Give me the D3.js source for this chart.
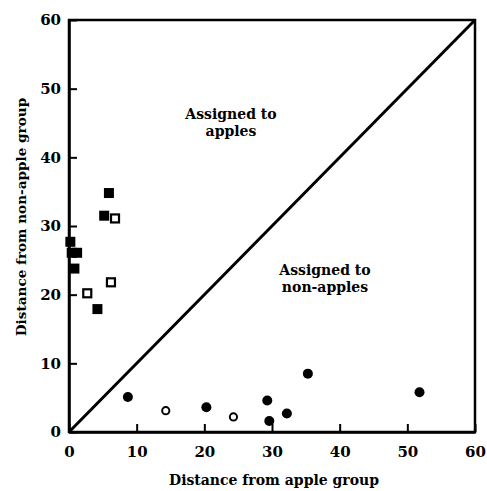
<!DOCTYPE html>
<html>
<head>
<meta charset="utf-8">
<script src="https://cdn.jsdelivr.net/npm/d3@7"></script>
<style>
  html, body { margin: 0; padding: 0; background: #fff; }
  svg { display: block; }
  text { font-family: "DejaVu Serif", serif; font-weight: bold; fill: #000; }
</style>
</head>
<body>
<svg id="chart" width="487" height="491"></svg>
<script>
// Data
const appleFilledX = [5.9, 5.2, 0.2, 0.4, 1.2, 0.8, 4.2];
const appleFilledY = [34.8, 31.5, 27.7, 26.1, 26.1, 23.8, 17.9];
const appleOpenX = [6.8, 6.2, 2.7];
const appleOpenY = [31.1, 21.8, 20.2];
const nonAppleFilledX = [8.7, 20.3, 29.3, 29.6, 32.2, 35.3, 51.8];
const nonAppleFilledY = [5.1, 3.6, 4.6, 1.6, 2.7, 8.5, 5.8];
const nonAppleOpenX = [14.3, 24.3];
const nonAppleOpenY = [3.1, 2.2];
const xTicks = [0, 10, 20, 30, 40, 50, 60];
const yTicks = [0, 10, 20, 30, 40, 50, 60];
const xTitle = "Distance from apple group";
const yTitle = "Distance from non-apple group";
const upperLabel = ["Assigned to", "apples"];
const lowerLabel = ["Assigned to", "non-apples"];

const svg = d3.select("#chart");
const mLeft = 69, mRight = 475, mTop = 20, mBottom = 432;
const x = d3.scaleLinear().domain([0, 60]).range([mLeft, mRight]);
const y = d3.scaleLinear().domain([0, 60]).range([mBottom, mTop]);

// frame
svg.append("rect")
  .attr("x", mLeft).attr("y", mTop)
  .attr("width", mRight - mLeft).attr("height", mBottom - mTop)
  .attr("fill", "none").attr("stroke", "#000").attr("stroke-width", 2.5);

const xAxis = svg.append("g")
  .attr("transform", `translate(0,${mBottom})`)
  .call(d3.axisBottom(x).tickValues(xTicks).tickFormat(d3.format("d"))
        .tickSizeInner(-8).tickSizeOuter(0).tickPadding(14));
const yAxis = svg.append("g")
  .attr("transform", `translate(${mLeft},0)`)
  .call(d3.axisLeft(y).tickValues(yTicks).tickFormat(d3.format("d"))
        .tickSizeInner(-8).tickSizeOuter(0).tickPadding(8));

[xAxis, yAxis].forEach(g => {
  g.select(".domain").attr("stroke", "#000").attr("stroke-width", 2.5);
  g.selectAll(".tick line").attr("stroke", "#000").attr("stroke-width", 2);
  g.selectAll(".tick text")
    .attr("font-family", "DejaVu Serif").attr("font-weight", "bold")
    .attr("font-size", 15).attr("fill", "#000");
});

// diagonal
svg.append("line")
  .attr("x1", x(0)).attr("y1", y(0)).attr("x2", x(60)).attr("y2", y(60))
  .attr("stroke", "#000").attr("stroke-width", 3);

// markers
const sq = 10;
svg.append("g").selectAll("rect")
  .data(appleFilledX.map((v, i) => [v, appleFilledY[i]]))
  .join("rect")
  .attr("x", d => x(d[0]) - sq / 2).attr("y", d => y(d[1]) - sq / 2)
  .attr("width", sq).attr("height", sq).attr("fill", "#000");

const osq = 8;
svg.append("g").selectAll("rect")
  .data(appleOpenX.map((v, i) => [v, appleOpenY[i]]))
  .join("rect")
  .attr("x", d => x(d[0]) - osq / 2).attr("y", d => y(d[1]) - osq / 2)
  .attr("width", osq).attr("height", osq)
  .attr("fill", "#fff").attr("stroke", "#000").attr("stroke-width", 2.2);

svg.append("g").selectAll("circle")
  .data(nonAppleFilledX.map((v, i) => [v, nonAppleFilledY[i]]))
  .join("circle")
  .attr("cx", d => x(d[0])).attr("cy", d => y(d[1])).attr("r", 5)
  .attr("fill", "#000");

svg.append("g").selectAll("circle")
  .data(nonAppleOpenX.map((v, i) => [v, nonAppleOpenY[i]]))
  .join("circle")
  .attr("cx", d => x(d[0])).attr("cy", d => y(d[1])).attr("r", 3.6)
  .attr("fill", "#fff").attr("stroke", "#000").attr("stroke-width", 2);

// region labels
function multiline(lines, cx, cy) {
  const t = svg.append("text").attr("text-anchor", "middle").attr("font-size", 14);
  lines.forEach((s, i) => {
    t.append("tspan").attr("x", cx).attr("y", cy + i * 17).text(s);
  });
}
multiline(upperLabel, 231, 119);
multiline(lowerLabel, 325, 275);

// axis titles
svg.append("text").attr("text-anchor", "middle").attr("font-size", 14)
  .attr("x", 274).attr("y", 485).text(xTitle);
svg.append("text").attr("text-anchor", "middle").attr("font-size", 13.6)
  .attr("transform", `translate(26,217) rotate(-90)`)
  .text(yTitle);
</script>
</body>
</html>
